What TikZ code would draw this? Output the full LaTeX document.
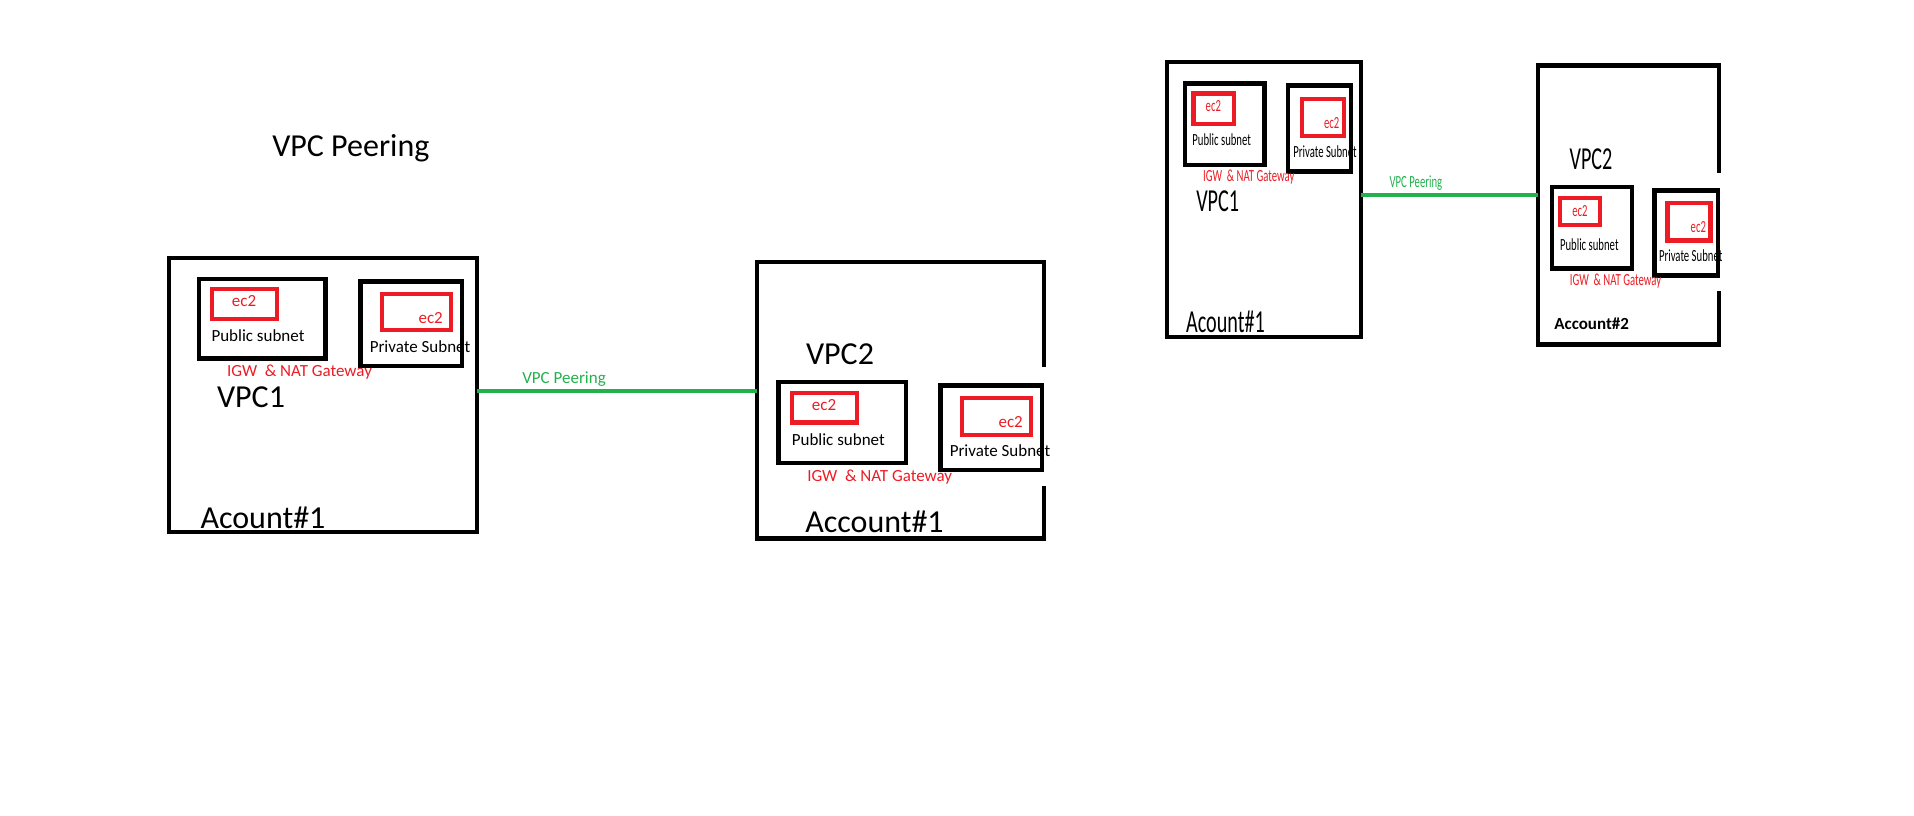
\documentclass[tikz,border=0pt]{standalone}
\usepackage{fontspec}
\setmainfont{Carlito}
\newfontfamily\narrowfont[FakeStretch=0.63]{Carlito}
\definecolor{paintred}{HTML}{ED1C24}
\definecolor{paintgreen}{HTML}{22B14C}
\tikzset{
    acct/.style = {rectangle, line width=4.3pt, draw=black, inner sep=0pt, outer sep=0pt},
    frame/.style = {line width=4.3pt, draw=black},
    subnet/.style = {rectangle, line width=4.3pt, draw=black, inner sep=0pt, outer sep=0pt},
    ec2box/.style = {rectangle, line width=4.3pt, draw=paintred, inner sep=0pt, outer sep=0pt},
    smalltxt/.style = {inner sep=0pt, font=\fontsize{17}{20}\selectfont},
    smalltxtn/.style = {inner sep=0pt, font=\narrowfont\fontsize{17}{20}\selectfont},
    boldtxt/.style = {inner sep=0pt, font=\fontsize{17}{20}\selectfont\bfseries},
    redtxt/.style = {smalltxt, text=paintred},
    redtxtn/.style = {smalltxtn, text=paintred},
    greentxt/.style = {smalltxt, text=paintgreen},
    greentxtn/.style = {smalltxtn, text=paintgreen},
    bigtxt/.style = {inner sep=0pt, font=\fontsize{32}{38}\selectfont},
    bigtxtn/.style = {inner sep=0pt, font=\narrowfont\fontsize{32}{38}\selectfont},
    peer/.style = {line width=4pt, draw=paintgreen}
}
\begin{document}
\begin{tikzpicture}[x=1pt, y=-1pt]
\useasboundingbox (0,0) rectangle (1914,815);
%
\node[bigtxt] at (350.8, 148.5) (title) {VPC Peering};
%
% first account
\node[acct, minimum width=308, minimum height=274.3] at (323.3, 394.85) (accA1) {};
\node[subnet, minimum width=126.5, minimum height=79.5] at (262.2, 318.7) (pubA1) {};
\node[ec2box, minimum width=64.7, minimum height=29.4] at (244.3, 304) (ecA1) {};
\node[redtxt] at (244, 301) (ecA1t) {ec2};
\node[smalltxt] at (258, 335.5) (pubA1t) {Public subnet};
\node[subnet, minimum width=101.5, minimum height=84.5] at (411.3, 323.8) (prvA1) {};
\node[ec2box, minimum width=68.7, minimum height=36] at (416.3, 312.3) (ecA1p) {};
\node[redtxt] at (430.7, 317.7) (ecA1pt) {ec2};
\node[smalltxt] at (420, 346.7) (prvA1t) {Private Subnet};
\node[redtxt] at (299.5, 372) (gwA1) {IGW~~\& NAT Gateway};
\node[bigtxt] at (251, 397.5) (vpcA1) {VPC1};
\node[bigtxt] at (263, 517.5) (ownA1) {Acount\#1};
%
% second account
\node[acct, draw=none, minimum width=287, minimum height=276.8] at (900.5, 400.1) (accA2) {};
\draw[frame] ([yshift=-105.6pt]accA2.north east) -- (accA2.north east) -- (accA2.north west)
    -- (accA2.south west) -- (accA2.south east) -- ([yshift=52.5pt]accA2.south east);
\node[subnet, minimum width=127.7, minimum height=80.5] at (842.2, 422.5) (pubA2) {};
\node[ec2box, minimum width=65, minimum height=29.3] at (824.5, 407.7) (ecA2) {};
\node[redtxt] at (824, 405) (ecA2t) {ec2};
\node[smalltxt] at (838.3, 440) (pubA2t) {Public subnet};
\node[subnet, minimum width=101.5, minimum height=84.5] at (991.3, 427.8) (prvA2) {};
\node[ec2box, minimum width=68.7, minimum height=36.7] at (996.3, 416.3) (ecA2p) {};
\node[redtxt] at (1010.7, 421.7) (ecA2pt) {ec2};
\node[smalltxt] at (1000, 451) (prvA2t) {Private Subnet};
\node[redtxt] at (879.7, 477) (gwA2) {IGW~~\& NAT Gateway};
\node[bigtxt] at (840, 354) (vpcA2) {VPC2};
\node[bigtxt] at (874.5, 522) (ownA2) {Account\#1};
%
\coordinate (pA) at ([yshift=4.15pt]accA1.east);
\draw[peer] (pA) -- (pA -| accA2.west) node[greentxt, pos=0.31, yshift=11.7pt] (peerA) {VPC Peering};
%
% small copy, first account
\node[acct, minimum width=194, minimum height=275] at (1264, 199.5) (accB1) {};
\node[subnet, minimum width=79.5, minimum height=81.5] at (1224.75, 124.25) (pubB1) {};
\node[ec2box, minimum width=40.5, minimum height=30.5] at (1213.75, 108.75) (ecB1) {};
\node[redtxtn] at (1213.3, 106) (ecB1t) {ec2};
\node[smalltxtn] at (1221.7, 140) (pubB1t) {Public subnet};
\node[subnet, minimum width=62.7, minimum height=86] at (1319.65, 128.5) (prvB1) {};
\node[ec2box, minimum width=42, minimum height=37.6] at (1323, 117.5) (ecB1p) {};
\node[redtxtn] at (1331.7, 122.7) (ecB1pt) {ec2};
\node[smalltxtn] at (1325, 151.7) (prvB1t) {Private Subnet};
\node[redtxtn] at (1248.8, 177.3) (gwB1) {IGW~~\& NAT Gateway};
\node[bigtxtn] at (1217.7, 201.7) (vpcB1) {VPC1};
\node[bigtxtn] at (1225.5, 321.7) (ownB1) {Acount\#1};
%
% small copy, second account
\node[acct, draw=none, minimum width=181, minimum height=279] at (1628.5, 205) (accB2) {};
\draw[frame] ([yshift=-107.2pt]accB2.north east) -- (accB2.north east) -- (accB2.north west)
    -- (accB2.south west) -- (accB2.south east) -- ([yshift=53.8pt]accB2.south east);
\node[subnet, minimum width=80, minimum height=81.5] at (1592, 227.75) (pubB2) {};
\node[ec2box, minimum width=40, minimum height=26.7] at (1580, 211.35) (ecB2) {};
\node[redtxtn] at (1580, 210.7) (ecB2t) {ec2};
\node[smalltxtn] at (1589.3, 245) (pubB2t) {Public subnet};
\node[subnet, minimum width=63.5, minimum height=85] at (1686.25, 233) (prvB2) {};
\node[ec2box, minimum width=43, minimum height=37.5] at (1689, 221.75) (ecB2p) {};
\node[redtxtn] at (1698.3, 226.7) (ecB2pt) {ec2};
\node[smalltxtn] at (1690.7, 256) (prvB2t) {Private Subnet};
\node[redtxtn] at (1615.5, 281.3) (gwB2) {IGW~~\& NAT Gateway};
\node[bigtxtn] at (1591, 159.3) (vpcB2) {VPC2};
\node[boldtxt] at (1591.7, 324) (ownB2) {Account\#2};
%
\coordinate (pB) at ([yshift=4.2pt]accB1.east);
\draw[peer] (pB) -- (pB -| accB2.west) node[greentxtn, pos=0.31, yshift=11.7pt] (peerB) {VPC Peering};
%
\end{tikzpicture}
\end{document}
